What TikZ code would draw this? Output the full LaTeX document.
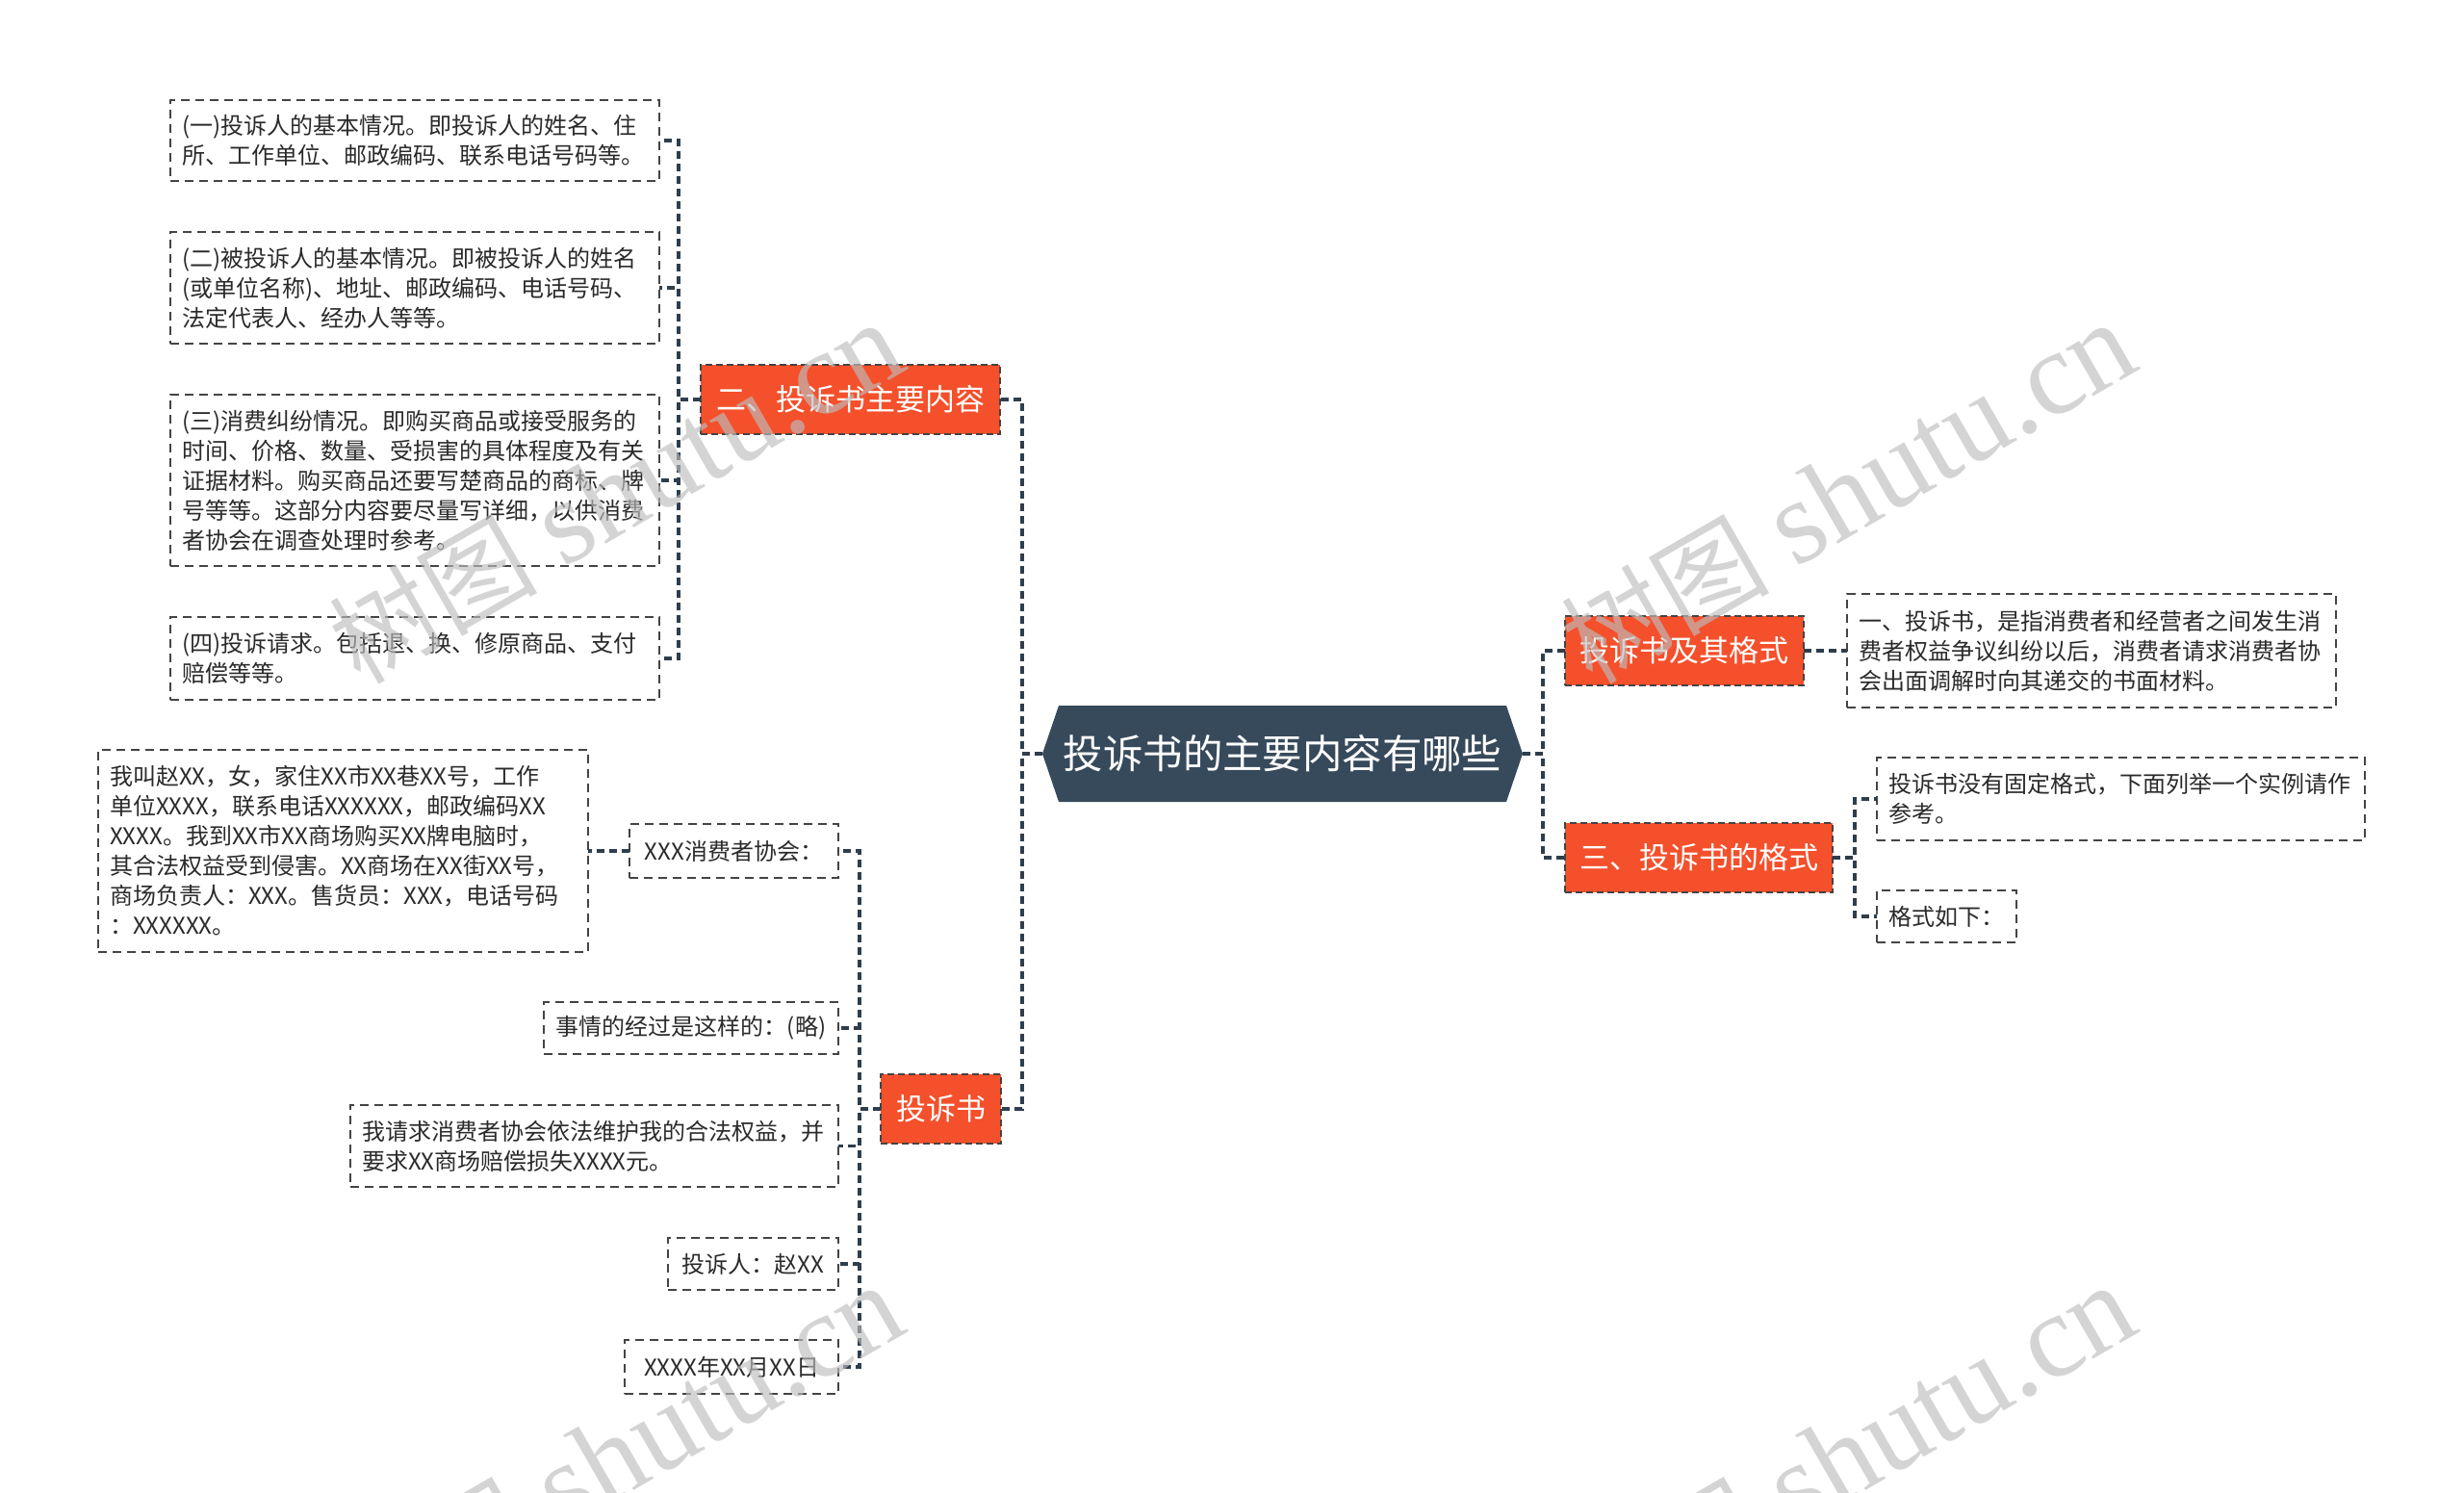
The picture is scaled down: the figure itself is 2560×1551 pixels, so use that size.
\documentclass[tikz,border=0pt]{standalone}
\usepackage{fontspec}
\setmainfont{Noto Sans CJK SC}
\newfontfamily\wmlatin{Liberation Serif}
\usetikzlibrary{backgrounds}
\definecolor{orangec}{HTML}{F4502B}
\definecolor{rootc}{HTML}{374A5B}
\definecolor{linec}{HTML}{2F3E4D}
\definecolor{boxc}{HTML}{444444}
\definecolor{txtc}{HTML}{2A2A2A}
\definecolor{wmc}{HTML}{BDBDBD}
\newcommand{\smallfs}{\fontsize{12pt}{15.5pt}\selectfont}
\newcommand{\midfs}{\fontsize{15.5pt}{19pt}\selectfont}
\newcommand{\bigfs}{\fontsize{20.7pt}{24pt}\selectfont}
\begin{document}
\begin{tikzpicture}[x=0.5pt,y=-0.5pt,
  every node/.style={outer sep=0pt},
  tbox/.style={draw=boxc, dash pattern=on 4.5pt off 3pt, line width=0.9pt,
    font=\smallfs, text=txtc, inner xsep=6pt, inner ysep=0pt, align=left},
  sbox/.style={draw=boxc, dash pattern=on 4.5pt off 3pt, line width=0.9pt,
    font=\smallfs, text=txtc, inner xsep=4pt, inner ysep=0pt, align=center},
  obox/.style={fill=orangec, draw=boxc, dash pattern=on 3.5pt off 2pt, line width=0.9pt,
    font=\midfs, text=white, inner sep=0pt, align=center, minimum height=36pt},
  conn/.style={draw=linec, line width=1.8pt, dash pattern=on 4pt off 2.5pt},
  wm/.style={text=wmc, opacity=0.65, font=\fontsize{62pt}{62pt}\selectfont, inner sep=0pt}
]
\useasboundingbox (0,0) rectangle (2560,1551);

% root
\node[font=\bigfs, text=white, minimum width=249.5pt, minimum height=50pt, inner sep=0pt] (root) at (1332.5,783) {投诉书的主要内容有哪些};
\begin{scope}[on background layer]
\fill[rootc] ([xshift=8.5pt]root.north west) -- ([xshift=-8.5pt]root.north east) -- (root.east)
  -- ([xshift=-8.5pt]root.south east) -- ([xshift=8.5pt]root.south west) -- (root.west) -- cycle;
\end{scope}

% main branches
\node[obox, minimum width=155.5pt] (er) at (883.5,415) {二、投诉书主要内容};
\node[obox, minimum width=62.5pt] (ts) at (977.5,1152) {投诉书};
\node[obox, minimum width=124pt] (gs) at (1750,676) {投诉书及其格式};
\node[obox, minimum width=139pt] (sg) at (1765,891) {三、投诉书的格式};

% children of er
\node[tbox, text width=242pt, minimum height=42pt] (c1) at (431,146)
  {(一)投诉人的基本情况。即投诉人的姓名、住\\所、工作单位、邮政编码、联系电话号码等。};
\node[tbox, text width=242pt, minimum height=58pt] (c2) at (431,299)
  {(二)被投诉人的基本情况。即被投诉人的姓名\\(或单位名称)、地址、邮政编码、电话号码、\\法定代表人、经办人等等。};
\node[tbox, text width=242pt, minimum height=89pt] (c3) at (431,499)
  {(三)消费纠纷情况。即购买商品或接受服务的\\时间、价格、数量、受损害的具体程度及有关\\证据材料。购买商品还要写楚商品的商标、牌\\号等等。这部分内容要尽量写详细，以供消费\\者协会在调查处理时参考。};
\node[tbox, text width=242pt, minimum height=43pt] (c4) at (431,684)
  {(四)投诉请求。包括退、换、修原商品、支付\\赔偿等等。};

% children of ts
\node[sbox, minimum width=108.5pt, minimum height=28pt] (xxx) at (762.5,884) {XXX消费者协会：};
\node[tbox, text width=242.5pt, minimum height=105pt] (wo) at (356.5,884)
  {我叫赵XX，女，家住XX市XX巷XX号，工作\\单位XXXX，联系电话XXXXXX，邮政编码XX\\XXXX。我到XX市XX商场购买XX牌电脑时，\\其合法权益受到侵害。XX商场在XX街XX号，\\商场负责人：XXX。售货员：XXX，电话号码\\：XXXXXX。};
\node[sbox, minimum width=153pt, minimum height=27pt] (sq) at (718,1068) {事情的经过是这样的：(略)};
\node[tbox, text width=241.5pt, minimum height=42.5pt] (qq) at (617.5,1190.5)
  {我请求消费者协会依法维护我的合法权益，并\\要求XX商场赔偿损失XXXX元。};
\node[sbox, minimum width=88.5pt, minimum height=27pt] (tsr) at (782.5,1313) {投诉人：赵XX};
\node[sbox, minimum width=111pt, minimum height=28pt] (dt) at (760,1420) {XXXX年XX月XX日};

% right side children
\node[tbox, text width=242pt, minimum height=59pt] (def) at (2173,676)
  {一、投诉书，是指消费者和经营者之间发生消\\费者权益争议纠纷以后，消费者请求消费者协\\会出面调解时向其递交的书面材料。};
\node[tbox, text width=241.5pt, minimum height=43pt] (nf) at (2203.5,830)
  {投诉书没有固定格式，下面列举一个实例请作\\参考。};
\node[sbox, minimum width=72.5pt, minimum height=27pt] (gx) at (2022.5,952) {格式如下：};

% connectors
\draw[conn] (root.west) -- ++(-21,0) |- (er.east);
\draw[conn] (root.west) -- ++(-21,0) |- (ts.east);
\draw[conn] (root.east) -- ++(21,0) |- (gs.west);
\draw[conn] (root.east) -- ++(21,0) |- (sg.west);

\draw[conn] (er.west) -- ++(-23,0) |- (c1.east);
\draw[conn] (er.west) -- ++(-23,0) |- (c2.east);
\draw[conn] (er.west) -- ++(-23,0) |- (c3.east);
\draw[conn] (er.west) -- ++(-23,0) |- (c4.east);

\draw[conn] (ts.west) -- ++(-22,0) |- (xxx.east);
\draw[conn] (ts.west) -- ++(-22,0) |- (sq.east);
\draw[conn] (ts.west) -- ++(-22,0) |- (qq.east);
\draw[conn] (ts.west) -- ++(-22,0) |- (tsr.east);
\draw[conn] (ts.west) -- ++(-22,0) |- (dt.east);
\draw[conn] (xxx.west) -- (wo.east);

\draw[conn] (gs.east) -- (def.west);
\draw[conn] (sg.east) -- ++(23,0) |- (nf.west);
\draw[conn] (sg.east) -- ++(23,0) |- (gx.west);

% watermarks
\begin{scope}
\clip (0,0) rectangle (2560,1551);
\node[wm, rotate=30] (w1) at (640,512) {{\fontsize{54pt}{54pt}\selectfont 树图} {\wmlatin shutu.cn}};
\node[wm, rotate=30] (w2) at (1920,512) {{\fontsize{54pt}{54pt}\selectfont 树图} {\wmlatin shutu.cn}};
\node[wm, rotate=30] (w3) at (640,1512) {{\fontsize{54pt}{54pt}\selectfont 树图} {\wmlatin shutu.cn}};
\node[wm, rotate=30] (w4) at (1920,1512) {{\fontsize{54pt}{54pt}\selectfont 树图} {\wmlatin shutu.cn}};
\end{scope}
\end{tikzpicture}
\end{document}
